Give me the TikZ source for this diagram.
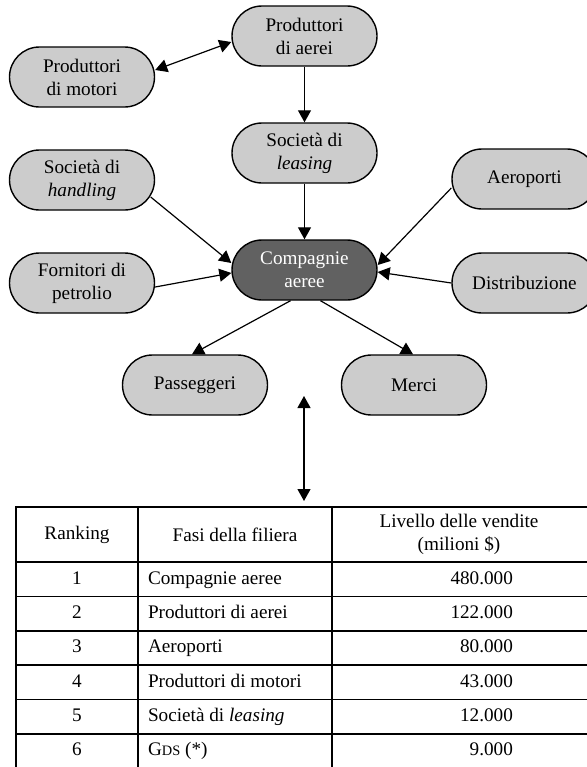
\documentclass[tikz,border=0pt]{standalone}
\usepackage{fontspec}
\setmainfont{Liberation Serif}
\usepackage{tikz}
\usetikzlibrary{arrows.meta}
\definecolor{boxgray}{gray}{0.8}
\definecolor{darkbox}{gray}{0.38}
\begin{document}
\begin{tikzpicture}[x=0.5pt,y=-0.5pt,
  every node/.style={font=\fontsize{9.6}{11.5}\selectfont},
  fase/.style={draw,line width=0.7pt,fill=boxgray,rounded corners=15pt,
    minimum width=72.5pt,minimum height=30pt,align=center,inner sep=1pt},
  freccia/.style={line width=0.6pt,-{Triangle[length=6pt,width=6.5pt]}},
  doppia/.style={line width=0.6pt,{Triangle[length=6pt,width=6.5pt]}-{Triangle[length=6pt,width=6.5pt]}},
  cella/.style={text height=7pt,text depth=2pt}]
\useasboundingbox (0,0) rectangle (586,767);
% filiera
\node[fase] (aerei) at (304.5,36) {Produttori\\di aerei};
\node[fase] (motori) at (82,77) {Produttori\\di motori};
\node[fase] (leasing) at (304.5,153) {Società di\\\textit{leasing}};
\node[fase] (handling) at (82,180) {Società di\\\textit{handling}};
\node[fase] (aero) at (524.5,179) {Aeroporti};
\node[fase,fill=darkbox,text=white] (comp) at (304.5,270) {Compagnie\\aeree};
\node[fase] (petrolio) at (82,283) {Fornitori di\\petrolio};
\node[fase] (distrib) at (524.5,283) {Distribuzione};
\node[fase] (pass) at (195,385) {Passeggeri};
\node[fase] (merci) at (414,385) {Merci};
\draw[doppia] ([yshift=3.5pt]motori.east) -- ([yshift=-3pt]aerei.west);
\draw[freccia] (aerei) -- (leasing);
\draw[freccia] (leasing) -- (comp);
\draw[freccia] ([xshift=-2.25pt,yshift=-8.5pt]handling.east) -- ([yshift=3.5pt]comp.west);
\draw[freccia] ([yshift=-2pt]petrolio.east) -- ([yshift=-1.5pt]comp.west);
\draw[freccia] ([yshift=-4.5pt]aero.west) -- ([yshift=2.5pt]comp.east);
\draw[freccia] (distrib.west) -- ([yshift=-1pt]comp.east);
\draw[freccia] ([xshift=-7pt]comp.south) -- ([xshift=-1.5pt]pass.north);
\draw[freccia] ([xshift=8pt]comp.south) -- ([xshift=-0.5pt]merci.north);
% tabella
\coordinate (sopra) at (304,396);
\coordinate (tabtop) at (304,507);
\draw[doppia] (sopra) -- ([yshift=3pt]tabtop);
\draw[line width=0.8pt] (16,507) rectangle (590,769);
\draw[line width=0.8pt] (138,507) -- (138,769) (332,507) -- (332,769);
\foreach \y in {562,596.3,630.7,665,699.3,733.7}
  \draw[line width=0.8pt] (16,\y) -- (590,\y);
\node (h1) at (77,534.5) {Ranking};
\node (h2) at (235,534.5) {Fasi della filiera};
\node[align=center] (h3) at (459,534.5) {Livello delle vendite\\(milioni \$)};
\foreach \i/\f/\v in {1/Compagnie aeree/480.000,2/Produttori di aerei/122.000,
    3/Aeroporti/80.000,4/Produttori di motori/43.000,
    5/{Società di \textit{leasing}}/12.000,6/{G{\fontsize{7.2}{8}\selectfont DS} (*)}/9.000}{
  \node[cella] (r\i) at (77,562+34.33*\i-17.2) {\i};
  \node[cella,anchor=west] (f\i) at (141,562+34.33*\i-17.2) {\f};
  \node[cella,anchor=east] (v\i) at (520,562+34.33*\i-17.2) {\v};
}
\end{tikzpicture}
\end{document}
